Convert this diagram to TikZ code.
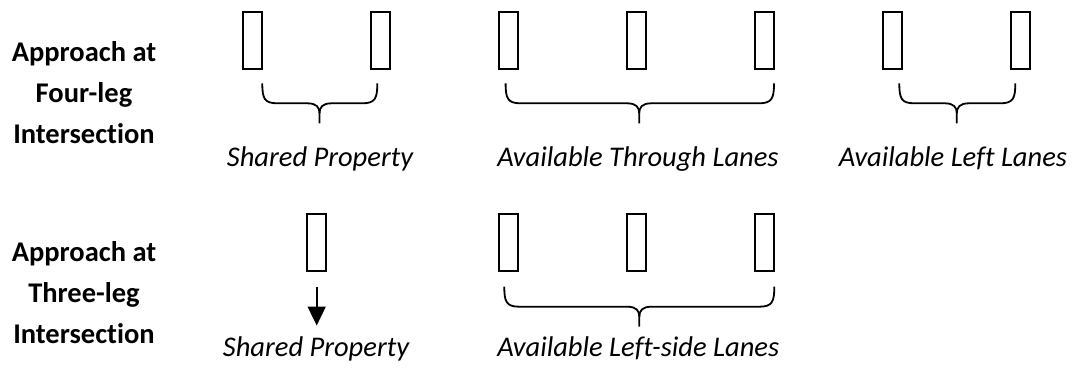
\documentclass[tikz,border=0pt]{standalone}
\usepackage{fontspec}
\setmainfont{Carlito}[Ligatures=NoCommon]
\usetikzlibrary{arrows.meta}
\tikzset{
  lane/.style={draw=black, line width=1.7pt, minimum width=19pt, minimum height=57pt, inner sep=0pt},
  bracestyle/.style={draw=black, line width=1.8pt},
  rowlabel/.style={font=\bfseries\fontsize{28.5}{41}\selectfont, align=center, inner sep=0pt},
  grouplabel/.style={font=\itshape\fontsize{28.5}{34}\selectfont, anchor=base, inner sep=0pt},
  flow/.style={draw=black, line width=1.8pt, -{Triangle[width=18pt,length=19pt]}}
}
\newcommand{\lanebrace}[4]{% x1, x2, xm, ytop
  \draw[bracestyle] (#1,#4) .. controls (#1,#4+15) and (#1+2,#4+20) .. (#1+15,#4+20)
    -- (#3-12,#4+20) .. controls (#3-3,#4+20) and (#3,#4+24) .. (#3,#4+30) -- (#3,#4+40);
  \draw[bracestyle] (#2,#4) .. controls (#2,#4+15) and (#2-2,#4+20) .. (#2-15,#4+20)
    -- (#3+12,#4+20) .. controls (#3+3,#4+20) and (#3,#4+24) .. (#3,#4+30);
}
\begin{document}
\begin{tikzpicture}[x=1pt,y=-1pt]
\useasboundingbox (0,0) rectangle (1081,373);
% row labels
\node[rowlabel] (lab4) at (84,92.5) {Approach at\\Four-leg\\Intersection};
\node[rowlabel] (lab3) at (84,293) {Approach at\\Three-leg\\Intersection};
% top row lanes
\node[lane] (t1) at (252.7,40.5) {};
\node[lane] (t2) at (380.7,40.5) {};
\node[lane] (t3) at (508.7,40.5) {};
\node[lane] (t4) at (636.5,40.5) {};
\node[lane] (t5) at (764.8,40.5) {};
\node[lane] (t6) at (892.2,40.5) {};
\node[lane] (t7) at (1020.2,40.5) {};
% top braces
\lanebrace{262.3}{377.3}{319.5}{83.3}
\lanebrace{505.6}{774}{639.2}{83.3}
\lanebrace{899.3}{1015.3}{956.8}{83.3}
% top labels
\node[grouplabel] (sp1) at (320,166) {Shared Property};
\node[grouplabel] (atl) at (638,166) {Available Through Lanes};
\node[grouplabel] (all) at (953,166) {Available Left Lanes};
% bottom row lanes
\node[lane] (b1) at (316.7,242.5) {};
\node[lane] (b2) at (508.7,242.5) {};
\node[lane] (b3) at (636.7,242.5) {};
\node[lane] (b4) at (764.7,242.5) {};
% arrow
\coordinate (arrS) at (316.7,286.7);
\coordinate (arrE) at (316.7,325.5);
\draw[flow] (arrS) -- (arrE);
% bottom brace
\lanebrace{504.3}{774.3}{639.3}{286.7}
% bottom labels
\node[grouplabel] (sp2) at (316,356.7) {Shared Property};
\node[grouplabel] (als) at (638.3,356.7) {Available Left-side Lanes};
\end{tikzpicture}
\end{document}
